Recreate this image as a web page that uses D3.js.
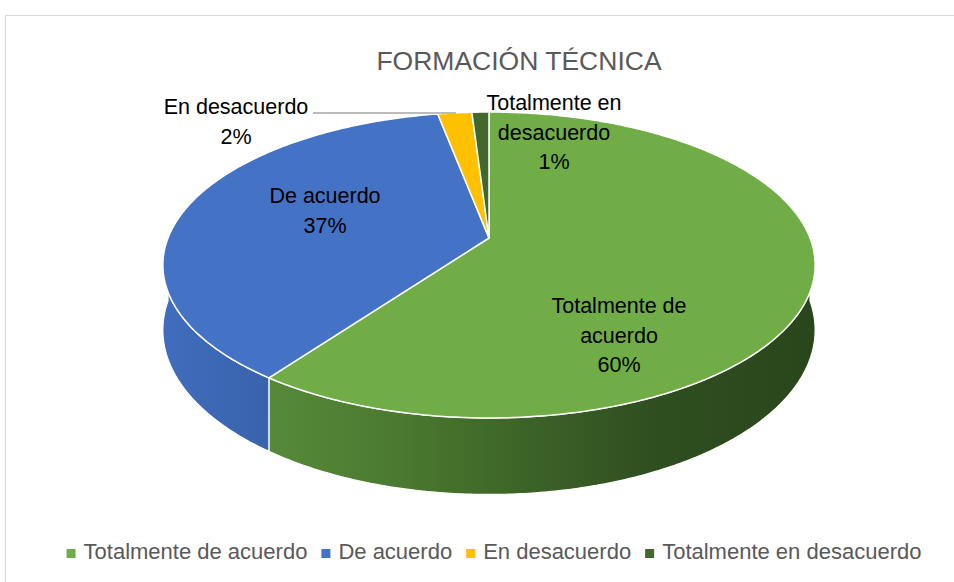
<!DOCTYPE html>
<html lang="es">
<head>
    <meta charset="utf-8">
    <title>Formación técnica</title>
    <script src="https://cdn.jsdelivr.net/npm/d3@7"></script>
    <style>
        body { margin: 0; background: #fff; }
        text { font-family: "Liberation Sans", Arial, sans-serif; }
    </style>
</head>
<body>
<script>
    // data
    var categories = ["Totalmente de acuerdo", "De acuerdo", "En desacuerdo", "Totalmente en desacuerdo"];
    var percents = [60, 37, 2, 1];
    var labelLines = [
        ["Totalmente de", "acuerdo", "60%"],
        ["De acuerdo", "37%"],
        ["En desacuerdo", "2%"],
        ["Totalmente en", "desacuerdo", "1%"]
    ];
    var colors = ["#70AD47", "#4472C4", "#FFC000", "#43682B"];

    var w = 954, h = 582;

    var svg = d3.select("body").append("svg")
        .attr("width", w)
        .attr("height", h);

    // chart area border
    svg.append("rect")
        .attr("x", 5.5).attr("y", 15.5)
        .attr("width", 1000).attr("height", 1000)
        .attr("fill", "#fff")
        .attr("stroke", "#d9d9d9");

    svg.append("text")
        .attr("x", 519).attr("y", 70)
        .attr("text-anchor", "middle")
        .attr("font-size", "26.5px")
        .attr("fill", "#595959")
        .text("FORMACIÓN TÉCNICA");

    // simple perspective for the tilted disc
    var cx = 489, cy = 238, Kx = 321, Ky = 148.2, persp = 0.1765, depth = 63;
    function proj(a, r, z) {
        var u = r * Math.sin(a), v = -r * Math.cos(a);
        var k = 1 - persp * v;
        return [cx + Kx * u / k, cy + (Ky * v + depth * z) / k];
    }
    function arcPts(a0, a1, z) {
        var n = Math.max(2, Math.ceil((a1 - a0) / 0.01));
        return d3.range(n + 1).map(function (i) {
            return proj(a0 + (a1 - a0) * i / n, 1, z);
        });
    }
    var line = d3.line().curve(d3.curveLinear);

    var pie = d3.pie().sort(null).value(function (d) { return d; });
    var arcs = pie(percents);

    // side shading
    var defs = svg.append("defs");
    var sideStops = [
        [["0", "#5f9640"], ["0.35", "#4b7a30"], ["0.75", "#2f4f20"], ["1", "#2a461c"]],
        [["0", "#3f6cbc"], ["0.2", "#3760a8"], ["1", "#24407a"]],
        [["0", "#c89600"], ["1", "#a07800"]],
        [["0", "#35521f"], ["1", "#2a4219"]]
    ];
    sideStops.forEach(function (st, i) {
        var g = defs.append("linearGradient")
            .attr("id", "side" + i)
            .attr("gradientUnits", "userSpaceOnUse")
            .attr("x1", cx - Kx).attr("x2", cx + Kx)
            .attr("y1", 0).attr("y2", 0);
        st.forEach(function (s) {
            g.append("stop").attr("offset", s[0]).attr("stop-color", s[1]);
        });
    });

    // front walls
    var lo = Math.PI / 2, hi = 3 * Math.PI / 2;
    svg.append("g").selectAll("path")
        .data(arcs.filter(function (d) { return d.endAngle > lo && d.startAngle < hi; }))
        .enter()
        .append("path")
        .attr("d", function (d) {
            var a0 = Math.max(d.startAngle, lo), a1 = Math.min(d.endAngle, hi);
            var pts = arcPts(a0, a1, 0).concat(arcPts(a0, a1, 1).reverse());
            return line(pts) + "Z";
        })
        .attr("fill", function (d) { return "url(#side" + d.index + ")"; })
        .attr("stroke", "#fff")
        .attr("stroke-width", 1.2)
        .attr("stroke-linejoin", "round");

    // top faces
    svg.append("g").selectAll("path")
        .data(arcs)
        .enter()
        .append("path")
        .attr("d", function (d) {
            var pts = [proj(0, 0, 0)].concat(arcPts(d.startAngle, d.endAngle, 0));
            return line(pts) + "Z";
        })
        .attr("fill", function (d) { return colors[d.index]; })
        .attr("stroke", "#fff")
        .attr("stroke-width", 1.5)
        .attr("stroke-linejoin", "round");

    // leader line for "En desacuerdo"
    svg.append("line")
        .attr("x1", 313).attr("y1", 113)
        .attr("x2", 456).attr("y2", 113)
        .attr("stroke", "#a6a6a6")
        .attr("stroke-width", 1.5);

    // data labels (anchor = centre x, first baseline)
    var labelAnchors = [[619, 313], [325, 203], [236, 114], [554, 110]];
    var lineGap = 29.5;
    arcs.forEach(function (d, i) {
        var t = svg.append("text")
            .attr("text-anchor", "middle")
            .attr("font-size", "21.5px")
            .attr("fill", "#000");
        labelLines[i].forEach(function (s, j) {
            t.append("tspan")
                .attr("x", labelAnchors[i][0])
                .attr("y", labelAnchors[i][1] + j * lineGap)
                .text(s);
        });
    });

    // legend
    var legend = svg.append("g");
    var items = legend.selectAll("g")
        .data(categories)
        .enter()
        .append("g");
    items.append("rect")
        .attr("width", 9).attr("height", 9)
        .attr("y", 549)
        .attr("fill", function (d, i) { return colors[i]; });
    items.append("text")
        .attr("x", 17).attr("y", 559)
        .attr("font-size", "22px")
        .attr("fill", "#595959")
        .text(function (d) { return d; });
    var widths = [];
    items.each(function () {
        widths.push(17 + d3.select(this).select("text").node().getComputedTextLength());
    });
    var gap = 14;
    var total = d3.sum(widths) + gap * (widths.length - 1);
    var xPos = 494 - total / 2;
    items.each(function (d, i) {
        d3.select(this).attr("transform", "translate(" + xPos + ",0)");
        xPos += widths[i] + gap;
    });
</script>
</body>
</html>
